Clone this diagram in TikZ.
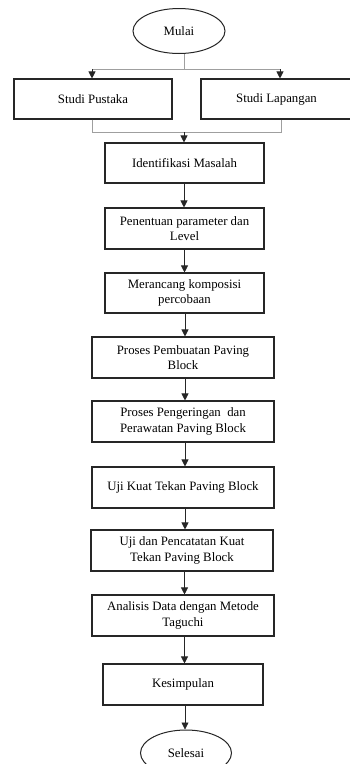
\documentclass[tikz,border=0pt]{standalone}
\usepackage{fontspec}
\setmainfont{Liberation Serif}
\usetikzlibrary{arrows.meta,shapes.geometric}
\begin{document}
\begin{tikzpicture}[x=1pt,y=-1pt,
    box/.style={draw=black!85,line width=1.1pt,minimum height=40pt,align=center,
      font=\fontsize{12.8}{15.7}\selectfont,inner sep=2pt},
    term/.style={draw=black!85,line width=1pt,ellipse,minimum width=92pt,minimum height=45pt,
      font=\fontsize{12.8}{15.7}\selectfont,inner sep=0pt},
    arr/.style={-{Triangle[width=7pt,length=7pt]},line width=0.8pt,black!85},
    link/.style={line width=0.8pt,draw=gray!75}]
      \useasboundingbox (0,0) rectangle (350,764);
      \begin{scope}
      \clip (0,0) rectangle (350,764);
      \node[term] (mulai) at (179,31) {Mulai};
      \node[box,minimum width=158pt] (pustaka) at (93,99) {Studi Pustaka};
      \node[box,minimum width=151pt] (lapangan) at (276.5,99) {Studi Lapangan};
      \node[box,minimum width=159pt] (ident) at (184.5,163) {Identifikasi Masalah};
      \node[box,minimum width=159pt,minimum height=41pt] (param) at (184.5,228.5) {Penentuan parameter dan\\Level};
      \node[box,minimum width=159pt] (desain) at (184.5,293) {Merancang komposisi\\percobaan};
      \node[box,minimum width=182pt,minimum height=41pt] (buat) at (183,357.5) {Proses Pembuatan Paving\\Block};
      \node[box,minimum width=182pt,minimum height=41pt] (rawat) at (183,421.5) {Proses Pengeringan \ dan\\Perawatan Paving Block};
      \node[box,minimum width=182pt,minimum height=41pt] (ujikuat) at (183,487.5) {Uji Kuat Tekan Paving Block};
      \node[box,minimum width=182pt,minimum height=41pt] (catat) at (182,550.5) {Uji dan Pencatatan Kuat\\Tekan Paving Block};
      \node[box,minimum width=182pt,minimum height=41pt] (analisis) at (183,615.5) {Analisis Data dengan Metode\\Taguchi};
      \node[box,minimum width=160pt,minimum height=41pt] (simpul) at (183,684.5) {Kesimpulan};
      \node[term,minimum width=91pt,minimum height=46pt] (selesai) at (186,753) {Selesai};

      % percabangan dari mulai
      \coordinate (split) at (184,69);
      \coordinate (splitL) at (92,69);
      \coordinate (splitR) at (280,69);
      \draw[link] (mulai.south -| split) -- (split);
      \draw[link] (splitL) -- (splitR);
      \draw[arr] (splitL) -- (splitL |- pustaka.north);
      \draw[arr] (splitR) -- (splitR |- lapangan.north);

      % penggabungan ke identifikasi
      \coordinate (joinL) at (92.7,132);
      \coordinate (joinR) at (281,132);
      \coordinate (join) at (184,132);
      \draw[link] (joinL |- pustaka.south) -- (joinL) -- (joinR) -- (joinR |- lapangan.south);
      \draw[arr] (join) -- (join |- ident.north);

      \draw[arr] (ident.south -| join) -- (join |- param.north);
      \draw[arr] (param) -- (desain);
      \draw[arr] (desain.south -| 185,0) -- (buat.north -| 185,0);
      \draw[arr] (buat.south -| 185,0) -- (rawat.north -| 185,0);
      \draw[arr] (rawat.south -| 185,0) -- (ujikuat.north -| 185,0);
      \draw[arr] (ujikuat.south -| 185,0) -- (catat.north -| 185,0);
      \draw[arr] (catat.south -| 184.5,0) -- (analisis.north -| 184.5,0);
      \draw[arr] (analisis.south -| 184.5,0) -- (simpul.north -| 184.5,0);
      \draw[arr] (simpul.south -| 185,0) -- (selesai.north -| 185,0);
      \end{scope}
    \end{tikzpicture}
\end{document}
